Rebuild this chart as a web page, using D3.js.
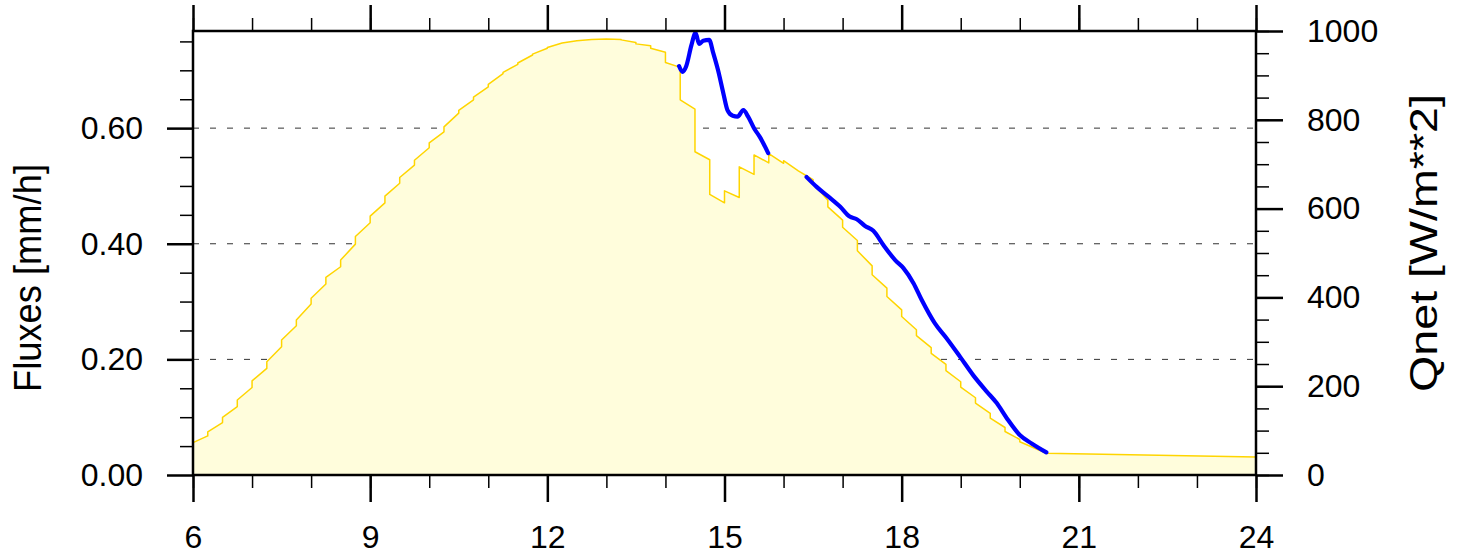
<!DOCTYPE html>
<html>
<head>
<meta charset="utf-8">
<script src="https://cdn.jsdelivr.net/npm/d3@7"></script>
<style>
  html, body { margin: 0; padding: 0; background: #ffffff; }
  svg { display: block; }
  text { font-family: "Liberation Sans", Arial, Helvetica, sans-serif; fill: #000; }
</style>
</head>
<body>
<svg id="chart" width="1467" height="560"></svg>
<script>
// ---------------- data ----------------
// Qnet (yellow shaded curve), hours and W/m**2 (repeated hours mark the small steps)
const qnetHours = [
  6.00,
  6.25, 6.25, 6.50, 6.50, 6.75, 6.75, 7.00, 7.00, 7.25, 7.25, 7.50, 7.50, 7.75, 7.75,
  8.00, 8.00, 8.25, 8.25, 8.50, 8.50, 8.75, 8.75, 9.00, 9.00, 9.25, 9.25, 9.50, 9.50,
  9.75, 9.75, 10.00, 10.00, 10.25, 10.25, 10.50, 10.50, 10.75, 10.75, 11.00, 11.00,
  11.25, 11.25, 11.50, 11.50, 11.75, 11.75, 12.00, 12.00,
  12.25, 12.50, 12.75, 13.00,
  13.25, 13.25, 13.50, 13.50, 13.75, 13.75, 14.00, 14.00, 14.25, 14.25,
  14.50, 14.50, 14.75, 14.75, 15.00, 15.00, 15.25, 15.25, 15.50, 15.50, 15.75, 15.75,
  16.00, 16.00, 16.25, 16.50, 16.50, 16.75, 16.75, 17.00, 17.00, 17.25, 17.25,
  17.50, 17.50, 17.75, 17.75, 18.00, 18.00, 18.25, 18.25, 18.50, 18.50, 18.75, 18.75,
  19.00, 19.00, 19.25, 19.25, 19.50, 19.50, 19.75, 19.75, 20.00, 20.00,
  20.45, 24.00
];
const qnetValues = [
  73,
  88, 97, 118, 130, 154, 169, 197, 212, 240, 255, 289, 304, 336, 349,
  385, 398, 430, 445, 469, 484, 520, 537, 568, 583, 613, 628, 657, 670,
  698, 709, 737, 748, 773, 784, 815, 821, 845, 851, 874, 880,
  904, 907, 925, 928, 946, 948, 961, 963,
  973, 978, 981, 982,
  981, 980, 974, 971, 967, 961, 952, 929, 918, 845,
  824, 728, 710, 632, 613, 640, 625, 694, 677, 721, 703, 724,
  702, 708, 685, 665, 657, 619, 604, 574, 558, 528, 505,
  471, 451, 421, 402, 372, 357, 327, 314, 287, 274, 249, 235,
  210, 198, 174, 162, 139, 128, 107, 98, 80, 75,
  49, 40.5
];
// Blue line, hours and W/m**2 (null = gap)
const blueHours = [
  14.23, 14.29, 14.35, 14.44, 14.51, 14.57, 14.64, 14.74, 14.81, 14.89, 14.98,
  15.05, 15.14, 15.22, 15.32, 15.40, 15.50, 15.60, 15.74,
  16.00,
  16.39, 16.56, 16.76, 16.96, 17.12, 17.24, 17.38, 17.52, 17.69, 17.89, 18.03,
  18.20, 18.34, 18.56, 18.76, 18.99, 19.21, 19.44, 19.61, 19.78, 20.00, 20.20, 20.45
];
const blueValues = [
  921, 908, 920, 968, 996, 971, 978, 980, 950, 912, 860,
  822, 809, 807, 822, 807, 781, 761, 725,
  null,
  671, 649, 627, 604, 582, 576, 561, 550, 518, 484, 466,
  432, 394, 342, 308, 266, 225, 188, 162, 128, 90, 71, 51
];
// axes
const xMajorTicks = [6, 9, 12, 15, 18, 21, 24];
const xMinorTicks = d3.range(6, 24.01, 1);
const leftMajorTicks = [0, 0.2, 0.4, 0.6];
const leftMinorTicks = [0.05, 0.1, 0.15, 0.25, 0.3, 0.35, 0.45, 0.5, 0.55, 0.65, 0.7, 0.75];
const rightMajorTicks = [0, 200, 400, 600, 800, 1000];
const rightMinorTicks = d3.range(0, 1000.1, 50);
const leftTitle = "Fluxes [mm/h]";
const rightTitle = "Qnet [W/m**2]";

// ---------------- layout ----------------
const L = 193, R = 1256, T = 31, B = 475;
const svg = d3.select("#chart");
const x = d3.scaleLinear([6, 24], [L, R]);
const yL = d3.scaleLinear([0, 0.768], [B, T]);
const yR = d3.scaleLinear([0, 1000], [B, T]);

// grid (dashed) at left major ticks
svg.append("g").selectAll("line")
  .data(leftMajorTicks.filter(d => d > 0))
  .join("line")
  .attr("x1", L).attr("x2", R)
  .attr("y1", d => yL(d)).attr("y2", d => yL(d))
  .attr("stroke", "#333").attr("stroke-width", 1)
  .attr("stroke-dasharray", "6,11");

const qnet = qnetHours.map((h, i) => ({ h, v: qnetValues[i] }));

svg.append("path")
  .datum(qnet)
  .attr("fill", "#FFFDDC")
  .attr("d", d3.area().x(d => x(d.h)).y0(yR(0)).y1(d => yR(d.v)));

svg.append("path")
  .datum(qnet)
  .attr("fill", "none")
  .attr("stroke", "#FFD500")
  .attr("stroke-width", 1.5)
  .attr("stroke-linejoin", "round")
  .attr("d", d3.line().x(d => x(d.h)).y(d => yR(d.v)));

const blue = blueHours.map((h, i) => ({ h, v: blueValues[i] }));
svg.append("path")
  .datum(blue)
  .attr("fill", "none")
  .attr("stroke", "#0000FF")
  .attr("stroke-width", 4.2)
  .attr("stroke-linejoin", "round")
  .attr("stroke-linecap", "round")
  .attr("d", d3.line().defined(d => d.v !== null).curve(d3.curveMonotoneX).x(d => x(d.h)).y(d => yR(d.v)));

// ---------------- axes ----------------
function styleAxis(g, w) {
  g.select(".domain").remove();
  g.selectAll(".tick line").attr("stroke", "#000").attr("stroke-width", w);
  g.selectAll(".tick text").style("font-size", "32px")
    .style("font-family", '"Liberation Sans", Arial, Helvetica, sans-serif');
}

// bottom
svg.append("g").attr("transform", `translate(0,${B})`)
  .call(d3.axisBottom(x).tickValues(xMinorTicks).tickSize(13).tickFormat(""))
  .call(g => styleAxis(g, 1.5));
svg.append("g").attr("transform", `translate(0,${B})`)
  .call(d3.axisBottom(x).tickValues(xMajorTicks).tickSize(27).tickPadding(23).tickFormat(d3.format("d")))
  .call(g => styleAxis(g, 2.5));
// top
svg.append("g").attr("transform", `translate(0,${T})`)
  .call(d3.axisTop(x).tickValues(xMinorTicks).tickSize(13).tickFormat(""))
  .call(g => styleAxis(g, 1.5));
svg.append("g").attr("transform", `translate(0,${T})`)
  .call(d3.axisTop(x).tickValues(xMajorTicks).tickSize(26).tickFormat(""))
  .call(g => styleAxis(g, 2.5));
// left
svg.append("g").attr("transform", `translate(${L},0)`)
  .call(d3.axisLeft(yL).tickValues(leftMinorTicks).tickSize(13).tickFormat(""))
  .call(g => styleAxis(g, 1.5));
svg.append("g").attr("transform", `translate(${L},0)`)
  .call(d3.axisLeft(yL).tickValues(leftMajorTicks).tickSize(26).tickPadding(24).tickFormat(d3.format(".2f")))
  .call(g => styleAxis(g, 2.5));
// right
svg.append("g").attr("transform", `translate(${R},0)`)
  .call(d3.axisRight(yR).tickValues(rightMinorTicks).tickSize(13).tickFormat(""))
  .call(g => styleAxis(g, 1.5));
svg.append("g").attr("transform", `translate(${R},0)`)
  .call(d3.axisRight(yR).tickValues(rightMajorTicks).tickSize(27).tickPadding(24).tickFormat(d3.format("d")))
  .call(g => styleAxis(g, 2.5));

// frame
svg.append("rect")
  .attr("x", L).attr("y", T).attr("width", R - L).attr("height", B - T)
  .attr("fill", "none").attr("stroke", "#000").attr("stroke-width", 2.5);

// titles
svg.append("text")
  .attr("transform", `translate(41,278) rotate(-90)`)
  .attr("text-anchor", "middle")
  .attr("textLength", 228)
  .attr("lengthAdjust", "spacingAndGlyphs")
  .style("font-size", "38px")
  .text(leftTitle);
svg.append("text")
  .attr("transform", `translate(1437,243) rotate(-90)`)
  .attr("text-anchor", "middle")
  .attr("textLength", 298)
  .attr("lengthAdjust", "spacingAndGlyphs")
  .style("font-size", "38px")
  .text(rightTitle);
</script>
</body>
</html>
